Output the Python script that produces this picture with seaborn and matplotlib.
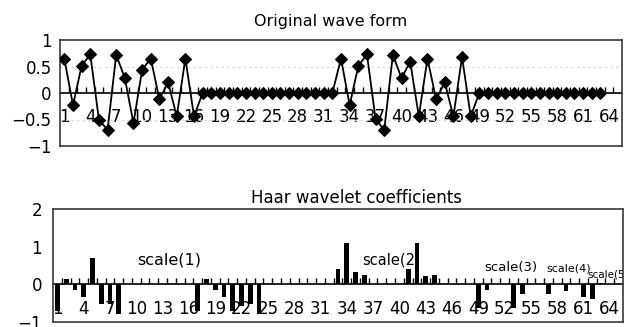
import numpy as np
import pandas as pd
import matplotlib
matplotlib.use("Agg")
import matplotlib.pyplot as plt
import seaborn as sns

# ---------------- data ----------------
wave = [0.65, -0.23, 0.51, 0.73, -0.50, -0.70, 0.72, 0.28,
        -0.57, 0.44, 0.65, -0.12, 0.20, -0.44, 0.65, -0.44,
        0.0, 0.0, 0.0, 0.0, 0.0, 0.0, 0.0, 0.0,
        0.0, 0.0, 0.0, 0.0, 0.0, 0.0, 0.0, 0.0,
        0.65, -0.23, 0.51, 0.73, -0.49, -0.70, 0.72, 0.28,
        0.59, -0.44, 0.65, -0.12, 0.20, -0.44, 0.68, -0.44,
        0.0, 0.0, 0.0, 0.0, 0.0, 0.0, 0.0, 0.0,
        0.0, 0.0, 0.0, 0.0, 0.0, 0.0, 0.0]

coef = [-0.72, 0.15, -0.15, -0.34, 0.69, -0.53, -0.52, -0.80,
        0.0, 0.0, 0.0, 0.0, 0.0, 0.0, 0.0, 0.0,
        -0.72, 0.15, -0.15, -0.34, -0.72, -0.58, -0.52, -0.80,
        0.0, 0.0, 0.0, 0.0, 0.0, 0.0, 0.0, 0.0,
        0.42, 1.10, 0.33, 0.24, 0.0, 0.0, 0.0, 0.0,
        0.42, 1.10, 0.22, 0.24, 0.0, 0.0, 0.0, 0.0,
        -0.63, -0.16, 0.0, 0.0, -0.63, -0.25, 0.0, 0.0,
        -0.26, 0.0, -0.19, 0.0,
        -0.34, -0.39,
        0.04, 0.0]

x_tick_values = [1, 4, 7, 10, 13, 16, 19, 22, 25, 28, 31, 34, 37, 40, 43, 46,
                 49, 52, 55, 58, 61, 64]
x_tick_labels = ["1", "4", "7", "10", "13", "16", "19", "22", "25", "28", "31",
                 "34", "37", "40", "43", "46", "49", "52", "55", "58", "61", "64"]

top_yticks = [1, 0.5, 0, -0.5, -1]
top_ylabels = ["1", "0.5", "0", "\u22120.5", "\u22121"]
bot_yticks = [2, 1, 0, -1]
bot_ylabels = ["2", "1", "0", "\u22121"]

scale_texts = ["scale(1)", "scale(2", "scale(3)", "scale(4)", "scale(5)"]

# ---------------- figure ----------------
sns.set_theme(style="white")
plt.rcParams['font.family'] = ['DejaVu Sans']

W, H = 625, 327
fig = plt.figure(figsize=(W / 100, H / 100), dpi=100)
ax1 = fig.add_axes([60 / W, 1 - 146 / H, 562 / W, 106 / H])
ax2 = fig.add_axes([53 / W, 1 - 322 / H, 570 / W, 113 / H])

XLIM = (0.5, 65.5)

df_w = pd.DataFrame({"idx": np.arange(1, len(wave) + 1), "val": wave})
sns.lineplot(data=df_w, x="idx", y="val", ax=ax1, color="black",
             linewidth=1.3, marker="D", markersize=6,
             markeredgecolor="black", markerfacecolor="black", zorder=3)

df_c = pd.DataFrame({"idx": np.arange(1, len(coef) + 1), "val": coef})
sns.barplot(data=df_c, x="idx", y="val", ax=ax2, native_scale=True,
            color="black", width=0.55, saturation=1, errorbar=None,
            linewidth=0, zorder=3)


def style(ax, ylim, yticks, ylabels, ypad):
    ax.set_xlim(*XLIM)
    ax.set_ylim(*ylim)
    ax.set_xticks([])
    ax.set_yticks(yticks)
    ax.set_yticklabels(ylabels)
    ax.set_xlabel("")
    ax.set_ylabel("")
    ax.tick_params(axis="y", length=0, pad=ypad, labelsize=12, colors="black")
    for s in ax.spines.values():
        s.set_visible(True)
        s.set_color("#3a3a3a")
        s.set_linewidth(1.2)
    frac = (0 - ylim[0]) / (ylim[1] - ylim[0])
    sec = ax.secondary_xaxis(frac)
    sec.set_alignment("bottom")
    sec.set_xticks(x_tick_values, labels=x_tick_labels)
    sec.set_xticks(np.arange(XLIM[0] + 1, XLIM[1], 1), minor=True)
    sec.tick_params(which="major", length=0, pad=11, labelsize=12, colors="black")
    sec.tick_params(which="minor", direction="in", length=4, width=1, color="black")
    sec.spines["bottom"].set_linewidth(1.2)
    sec.spines["bottom"].set_color("black")
    return sec


style(ax1, (-1, 1), top_yticks, top_ylabels, 6)
style(ax2, (-1, 2), bot_yticks, bot_ylabels, 8)

for yv in (0.5, -0.5):
    ax1.axhline(yv, color="#d4d4d4", linewidth=0.8, linestyle=(0, (2, 3)), zorder=1)

ax1.set_title("Original wave form", fontsize=11.5, pad=10, x=0.482, color="black")
ax2.set_title("Haar wavelet coefficients", fontsize=12, pad=4.5, x=0.532, color="black")

# scale annotations
ann = [(13.7, 0.65, 11.5, "center"), (35.8, 0.65, 10.5, "left"),
       (52.7, 0.46, 9.5, "center"), (59.3, 0.43, 8.0, "center"),
       (61.4, 0.27, 7.5, "left")]
for t, (xx, yy, fs, ha) in zip(scale_texts, ann):
    ax2.text(xx, yy, t, fontsize=fs, ha=ha, va="center", color="black",
             zorder=2, clip_on=True)

fig.savefig("out.png", dpi=100)
